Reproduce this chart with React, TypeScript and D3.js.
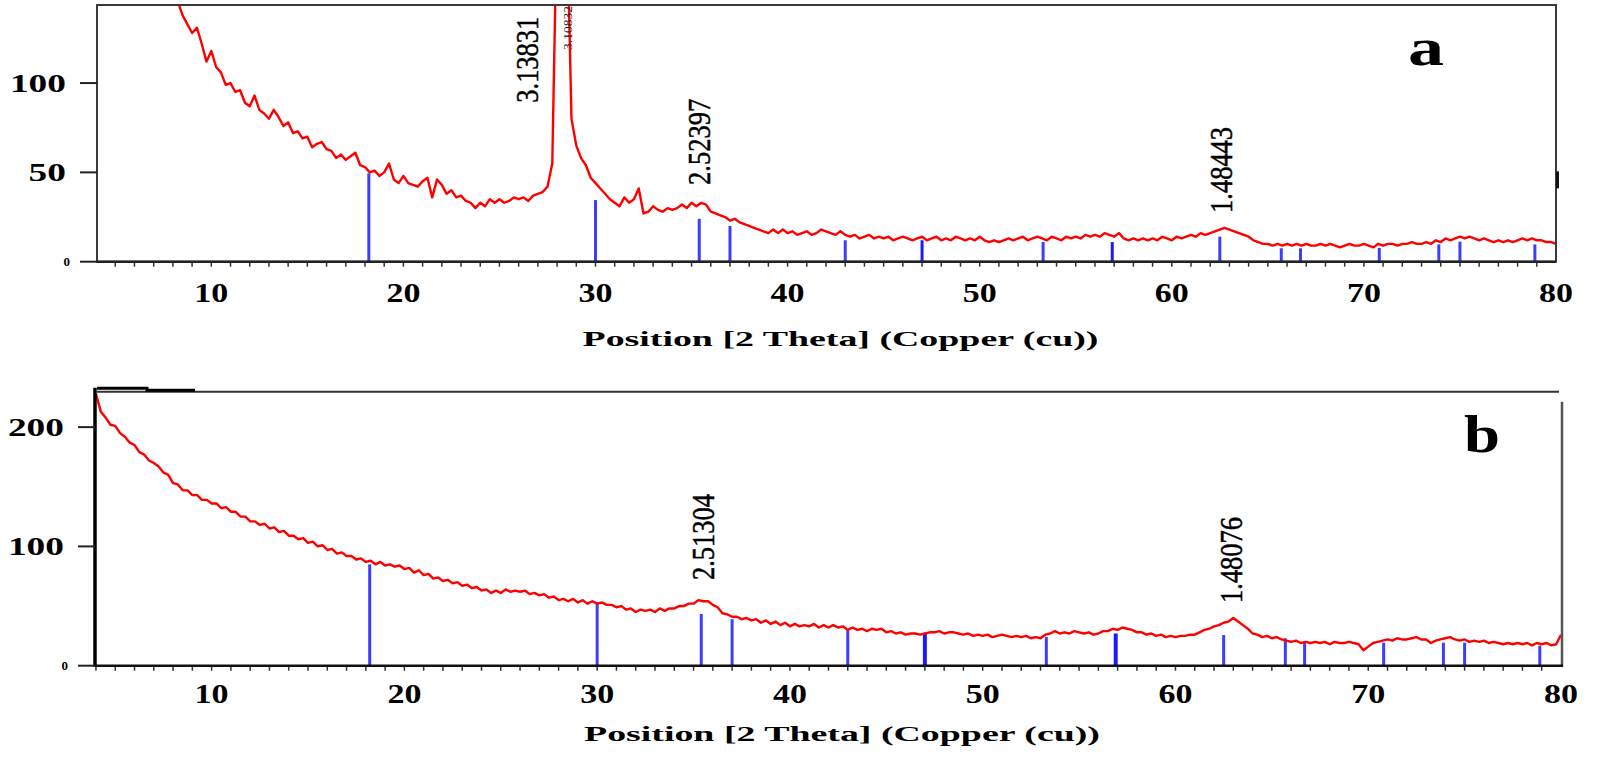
import React from 'react'
import * as d3 from 'd3'

// counts, 2θ grid starting at startA / startB, step 0.25°
const startA = 8
const startB = 4
const step = 0.25

const countsA = [
  152, 146, 138, 133, 128, 131, 122, 112, 118, 109, 106, 99, 100, 95, 96, 89,
  87, 93, 85, 83, 80, 85, 81, 76, 78, 72, 73, 69, 70, 64, 66, 67,
  63, 62, 58, 60, 57, 59, 61, 54, 53, 50, 51, 48, 50, 55, 46, 44,
  48, 44, 43, 42, 45, 47, 36, 46, 43, 38, 40, 36, 37, 34, 33, 30,
  33, 31, 35, 33, 35, 33, 34, 36, 35, 36, 34, 37, 38, 39, 42, 55,
  200, 200, 200, 80, 65, 58, 54, 47, 44, 41, 38, 35, 33, 31, 36, 33,
  35, 41, 27, 28, 31, 29, 28, 30, 29, 30, 32, 30, 33, 31, 33, 32,
  28, 27, 26, 25, 23, 24, 22, 21, 20, 19, 18, 17, 16, 18, 16, 18,
  16, 17, 15, 16, 17, 15, 16, 18, 17, 16, 15, 17, 15, 14, 15, 13,
  14, 15, 13, 14, 13, 14, 12, 13, 14, 13, 12, 13, 14, 12, 13, 14,
  12, 13, 12, 14, 13, 12, 13, 12, 14, 12, 11, 12, 11, 12, 13, 12,
  13, 14, 12, 13, 14, 13, 12, 14, 13, 12, 14, 13, 14, 13, 15, 14,
  15, 14, 16, 15, 14, 16, 13, 12, 13, 12, 13, 12, 13, 12, 14, 13,
  12, 14, 13, 14, 15, 14, 16, 15, 16, 17, 18, 19, 18, 17, 16, 15,
  14, 12, 11, 10, 10, 9, 10, 9, 10, 9, 10, 9, 10, 9, 9, 10,
  9, 10, 9, 8, 9, 10, 9, 9, 10, 9, 8, 10, 9, 10, 10, 9,
  10, 10, 11, 10, 10, 11, 10, 12, 11, 13, 12, 13, 14, 13, 14, 13,
  12, 13, 12, 11, 12, 11, 12, 11, 12, 13, 12, 13, 12, 12, 11, 11,
  10,
]

const countsB = [
  228, 213, 208, 202, 201, 195, 192, 187, 185, 179, 177, 172, 170, 167, 162, 160,
  153, 152, 147, 147, 143, 143, 139, 139, 136, 136, 132, 133, 129, 129, 125, 125,
  121, 121, 118, 119, 115, 116, 112, 113, 109, 109, 106, 107, 103, 104, 100, 101,
  97, 98, 94, 95, 92, 92, 89, 90, 87, 88, 85, 87, 84, 85, 83, 84,
  81, 82, 78, 80, 76, 77, 73, 74, 71, 72, 69, 70, 67, 68, 65, 66,
  63, 64, 61, 63, 61, 64, 62, 63, 62, 63, 60, 61, 59, 60, 57, 58,
  55, 56, 54, 56, 53, 55, 52, 54, 52, 53, 51, 51, 49, 50, 47, 48,
  45, 47, 46, 47, 45, 48, 46, 48, 48, 50, 50, 52, 52, 55, 54, 54,
  51, 49, 44, 43, 41, 41, 39, 40, 38, 39, 36, 38, 35, 37, 34, 36,
  33, 35, 33, 34, 33, 35, 32, 34, 32, 34, 32, 33, 30, 32, 30, 31,
  29, 31, 30, 31, 28, 29, 27, 28, 26, 27, 27, 26, 27, 28, 28, 29,
  27, 28, 28, 27, 26, 27, 25, 26, 25, 26, 24, 25, 26, 25, 24, 25,
  24, 25, 23, 24, 23, 26, 27, 29, 27, 28, 27, 29, 28, 27, 28, 26,
  27, 29, 29, 31, 30, 32, 31, 30, 28, 28, 26, 27, 25, 26, 24, 25,
  24, 25, 25, 26, 26, 28, 30, 31, 33, 34, 36, 37, 40, 37, 34, 31,
  27, 26, 24, 25, 23, 24, 22, 21, 20, 21, 19, 20, 19, 20, 19, 20,
  18, 20, 19, 19, 20, 19, 18, 13, 16, 19, 20, 21, 22, 21, 23, 22,
  22, 23, 24, 22, 22, 19, 21, 22, 23, 24, 22, 21, 22, 20, 21, 20,
  21, 19, 20, 19, 18, 19, 18, 19, 18, 19, 17, 19, 18, 19, 17, 18,
  26,
]

// reference pattern sticks (2θ) and their heights in each panel
const stickPos = [18.2, 30.0, 35.4, 37.0, 43.0, 47.0, 53.3, 56.9, 62.5, 65.7, 66.7, 70.8, 73.9, 75.0, 78.9]
const stickA = [49.5, 34.5, 24, 20, 12, 12, 11, 11, 14, 7.5, 7.5, 7.7, 9.7, 11.2, 9.7]
const stickB = [85, 52, 43.4, 39, 29.4, 27, 24, 27, 25.7, 23, 19.3, 19.3, 19.3, 19.3, 16.8]

const peakTextA = ['3.13831', '2.52397', '1.48443']
const peakPosA = [26.46, 35.41, 62.55]
const peakBaseA = [89, 43, 27.3]
const peakTextB = ['2.51304', '1.48076']
const peakPosB = [35.48, 62.87]
const peakBaseB = [71.8, 52.6]

const xTicks = [10, 20, 30, 40, 50, 60, 70, 80]
const yTicksA = [0, 50, 100]
const yTicksB = [0, 100, 200]
const xTitle = 'Position [2 Theta] (Copper (cu))'

const serif = { fontFamily: "'Liberation Serif', 'DejaVu Serif', serif" }

function Panel({ id, counts, start, sticks, xDom, xRange, yDom, yRange, yTicks, labels, labelPos, labelBase, letter, letterXY, tickY, titleY, variant }) {
  const x = d3.scaleLinear().domain(xDom).range(xRange)
  const y = d3.scaleLinear().domain(yDom).range(yRange)
  const line = d3.line<number>()
    .x((d, i) => x(start + i * step))
    .y(d => y(d))
  const [x0, x1] = xRange
  const [yb, yt] = yRange
  const minor = d3.range(Math.ceil(xDom[0]), 80)

  return (
    <g>
      <defs>
        <clipPath id={id}>
          <rect x={x0} y={yt} width={x1 - x0} height={yb - yt} />
        </clipPath>
      </defs>

      {/* sticks */}
      {stickPos.map((p, i) => (
        <line key={i} x1={x(p)} x2={x(p)} y1={y(0)} y2={y(sticks[i])}
          stroke={i === 5 || i === 7 ? '#1a1aff' : '#3d3dff'} strokeWidth={variant === 'b' && (i === 5 || i === 7) ? 4 : 3} />
      ))}

      <path d={line(counts) || ''} fill="none" stroke="#ff0000" strokeWidth={2.4} strokeLinejoin="round" clipPath={`url(#${id})`} />

      {/* frame */}
      {variant === 'a' ? (
        <g>
          <rect x={x0} y={yt} width={x1 - x0} height={yb - yt} fill="none" stroke="#3a3a3a" strokeWidth={2} />
          <line x1={x0} x2={x1} y1={yb} y2={yb} stroke="#222" strokeWidth={2.5} />
          <rect x={x1} y={y(50) - 1} width={3} height={17} fill="#111" />
        </g>
      ) : (
        <g>
          <line x1={x0 + 2} x2={x1 - 2} y1={yt} y2={yt} stroke="#333" strokeWidth={2} />
          <path d={`M${x0 + 2},${yt - 3.5}H${x0 + 52}V${yt - 1.5}H${x0 + 100}`} fill="none" stroke="#000" strokeWidth={3} />
          <line x1={x0} x2={x0} y1={yt - 4} y2={yb + 1} stroke="#000" strokeWidth={3.5} />
          <line x1={x1 + 1} x2={x1 + 1} y1={yt + 10} y2={yb + 1} stroke="#555" strokeWidth={2.5} />
          <line x1={x0} x2={x1 + 2} y1={yb} y2={yb} stroke="#111" strokeWidth={2.5} />
        </g>
      )}

      {/* minor ticks */}
      {minor.map(v => (
        <line key={v} x1={x(v)} x2={x(v)} y1={yb + 1} y2={yb + 5} stroke="#333" strokeWidth={1.5} />
      ))}

      {/* y ticks */}
      {yTicks.map(v => (
        <g key={v}>
          <line x1={x0 - 17} x2={x0} y1={y(v)} y2={y(v)} stroke="#222" strokeWidth={2} />
          {v === 0 ? (
            <text x={x0 - 27} y={y(v) + 4} style={serif} fontWeight="bold" fontSize={13} textAnchor="end">0</text>
          ) : (
            <text x={x0 - 31} y={y(v) + 8.5} style={serif} fontWeight="bold" fontSize={25} textAnchor="end"
              textLength={String(v).length * 18.7} lengthAdjust="spacingAndGlyphs">{v}</text>
          )}
        </g>
      ))}

      {/* x tick labels */}
      {xTicks.map(v => (
        <text key={v} x={x(v)} y={tickY} style={serif} fontWeight="bold" fontSize={27} textAnchor="middle"
          textLength={34} lengthAdjust="spacingAndGlyphs">{v}</text>
      ))}

      <text x={(x0 + x1) / 2 + 14} y={titleY} style={serif} fontWeight="bold" fontSize={21} textAnchor="middle"
        textLength={516} lengthAdjust="spacingAndGlyphs">{xTitle}</text>

      {/* peak d-spacing labels */}
      {labels.map((t, i) => (
        <text key={t} transform={`translate(${x(labelPos[i]) + 11},${y(labelBase[i])}) rotate(-90)`}
          style={serif} fontSize={32} textLength={86} lengthAdjust="spacingAndGlyphs"
          stroke="#000" strokeWidth={0.5}>{t}</text>
      ))}

      <text x={letterXY[0]} y={letterXY[1]} style={serif} fontWeight="bold" fontSize={52} textAnchor="middle"
        textLength={36} lengthAdjust="spacingAndGlyphs">{letter}</text>
    </g>
  )
}

export default function App() {
  return (
    <svg width={1597} height={762} style={{ position: 'absolute', left: 0, top: 0, background: '#fff' }}>
      <rect width={1597} height={762} fill="#fff" />
      <Panel id="clipA" variant="a" counts={countsA} start={startA} sticks={stickA}
        xDom={[4.05, 80]} xRange={[97, 1556]} yDom={[0, 143.7]} yRange={[261.7, 5]} yTicks={yTicksA}
        labels={peakTextA} labelPos={peakPosA} labelBase={peakBaseA}
        letter="a" letterXY={[1426, 65]} tickY={302} titleY={346} />
      {/* small overprinted label at the top of the main peak */}
      <text transform="translate(572,50) rotate(-90)" style={serif} fontSize={12} textLength={44}
        lengthAdjust="spacingAndGlyphs" fill="#222">3.10832</text>
      <Panel id="clipB" variant="b" counts={countsB} start={startB} sticks={stickB}
        xDom={[3.95, 80]} xRange={[95, 1561]} yDom={[0, 229.7]} yRange={[665.7, 391.7]} yTicks={yTicksB}
        labels={peakTextB} labelPos={peakPosB} labelBase={peakBaseB}
        letter="b" letterXY={[1482, 452]} tickY={703} titleY={741} />
    </svg>
  )
}
